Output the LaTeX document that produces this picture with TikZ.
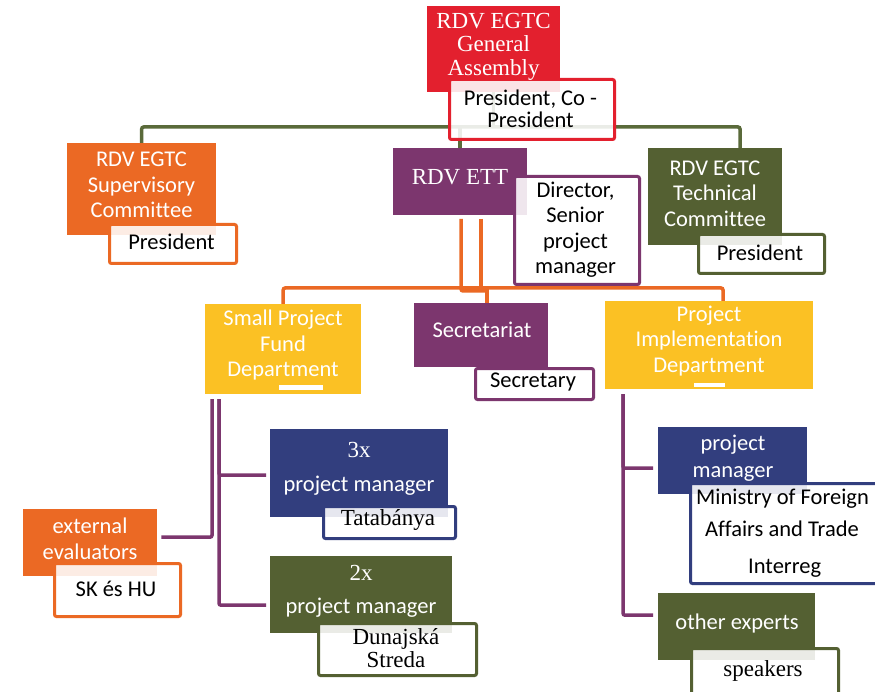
\documentclass[tikz,border=0pt]{standalone}
\usepackage{fontspec}
\setmainfont{Liberation Serif}
\newfontfamily\calfont[Ligatures=NoCommon]{Carlito}
\usetikzlibrary{calc}
\definecolor{cRed}{RGB}{227,32,46}
\definecolor{cOrange}{RGB}{235,105,36}
\definecolor{cPurple}{RGB}{124,54,110}
\definecolor{cGreen}{RGB}{84,96,50}
\definecolor{cYellow}{RGB}{251,193,36}
\definecolor{cNavy}{RGB}{50,62,126}
\definecolor{cLine}{RGB}{90,106,58}
\tikzset{
  blk/.style={fill=#1, draw=none, inner sep=0, anchor=north west},
  lbl/.style={draw=#1, line width=3pt, fill=white, fill opacity=0.88, rounded corners=2pt, inner sep=0, anchor=north west},
  wsans/.style={align=center, inner sep=0, text=white, font=\calfont\fontsize{22.5}{25.5}\selectfont},
  bsans/.style={align=center, inner sep=0, text=black, font=\calfont\fontsize{22.5}{25.5}\selectfont},
  wserif/.style={align=center, inner sep=0, text=white, font=\fontsize{23}{23.5}\selectfont},
  bserif/.style={align=center, inner sep=0, text=black, font=\fontsize{23}{23}\selectfont},
  gl/.style={draw=cLine, line width=3.5pt, rounded corners=2pt},
  ol/.style={draw=cOrange, line width=3.5pt, rounded corners=2pt},
  pl/.style={draw=cPurple, line width=3.5pt, rounded corners=2pt},
}
\begin{document}
\begin{tikzpicture}[x=1pt,y=-1pt]
\useasboundingbox (0,0) rectangle (875,692);
\clip (0,0) rectangle (875,692);
\fill[white] (0,0) rectangle (875,692);

% ---------- coloured boxes ----------
\node[blk=cRed,    minimum width=133pt, minimum height=86pt] (ga)   at (427,6) {};
\node[blk=cOrange, minimum width=149pt, minimum height=92pt] (sup)  at (67,143) {};
\node[blk=cPurple, minimum width=134pt, minimum height=67pt] (ett)  at (393,148) {};
\node[blk=cGreen,  minimum width=134pt, minimum height=97pt] (tech) at (648,148) {};
\node[blk=cYellow, minimum width=156pt, minimum height=90pt] (spf)  at (205,304) {};
\node[blk=cPurple, minimum width=134pt, minimum height=64pt] (sec)  at (414,303) {};
\node[blk=cYellow, minimum width=208pt, minimum height=88pt] (pid)  at (605,301) {};
\node[blk=cOrange, minimum width=134pt, minimum height=67pt] (ext)  at (23,509) {};
\node[blk=cNavy,   minimum width=178pt, minimum height=88pt] (pm3)  at (270,429) {};
\node[blk=cGreen,  minimum width=182pt, minimum height=77pt] (pm2)  at (270,556) {};
\node[blk=cNavy,   minimum width=149pt, minimum height=67pt] (pm)   at (658,427) {};
\node[blk=cGreen,  minimum width=157pt, minimum height=67pt] (oe)   at (658,593) {};

% ---------- connectors ----------
\coordinate (hubL) at (142,127);
\coordinate (hubR) at (740,127);
\draw[gl] (ga.south) -- (ga.south |- hubL);
\draw[gl] (sup.north) |- (hubR) -- (hubR |- tech.north);
\draw[gl] (ett.north) -- (ett.north |- hubL);

\coordinate (ohR) at (723,288);
\coordinate (e1) at (461,219);
\coordinate (e2) at (481,219);
\coordinate (sdrop) at (487,288);
\draw[ol] (spf.north) |- (ohR) -- (ohR |- pid.north);
\draw[ol] (e1) -- (461,291) -- (487,291);
\draw[ol] (e2) -- (e2 |- ohR);
\draw[ol] (sdrop) -- (sdrop |- sec.north);

\coordinate (s1) at (212,399);
\coordinate (s2) at (219,399);
\draw[pl] (s1) |- ($(ext.east)+(4,-5.5)$);
\draw[pl] (s2) |- ($(pm3.west)+(-4,2)$);
\draw[pl] (s2) |- ($(pm2.west)+(-4,10.5)$);
\coordinate (p1) at (623,394);
\draw[pl] (p1) |- ($(pm.west)+(-5,7.5)$);
\draw[pl] (p1) |- ($(oe.west)+(-5,-11.5)$);

% small white bars
\fill[white] (279,385) rectangle (323,390);
\fill[white] (694,383) rectangle (725,387);

% ---------- label boxes ----------
\node[lbl=cRed,    minimum width=165pt, minimum height=60pt]  (gal)  at (448,78) {};
\node[lbl=cOrange, minimum width=127pt, minimum height=39pt]  (supl) at (108,223) {};
\node[lbl=cPurple, minimum width=125pt, minimum height=108pt] (ettl) at (513,175) {};
\node[lbl=cGreen,  minimum width=126pt, minimum height=39pt]  (techl) at (697,233) {};
\node[lbl=cPurple, minimum width=118pt, minimum height=31pt]  (secl) at (474,367) {};
\node[lbl=cOrange, minimum width=126pt, minimum height=53pt]  (extl) at (53,562) {};
\node[lbl=cNavy,   minimum width=132pt, minimum height=32pt]  (pm3l) at (322,505) {};
\node[lbl=cGreen,  minimum width=158pt, minimum height=52pt]  (pm2l) at (317,622) {};
\node[lbl=cNavy,   minimum width=220pt, minimum height=100pt] (pml)  at (689,482) {};
\node[lbl=cGreen,  minimum width=147pt, minimum height=70pt]  (oel)  at (690,647) {};

% ---------- texts ----------
\node[wserif, font=\fontsize{23}{23.5}\selectfont] (gat) at (493.5,46.5) {RDV EGTC\\General\\Assembly};
\node[bsans, font=\calfont\fontsize{22.5}{22}\selectfont] (galt) at (530.5,109) {President, Co -\\President};
\node[wsans] (supt) at (141.5,185) {RDV EGTC\\Supervisory\\Committee};
\node[bsans] (suplt) at (171.5,242) {President};
\node[wserif] (ettt) at (460,177) {RDV ETT};
\node[bsans] (ettlt) at (575.5,229.5) {Director,\\Senior\\project\\manager};
\node[wsans] (techt) at (715,193.5) {RDV EGTC\\Technical\\Committee};
\node[bsans] (techlt) at (760,253) {President};
\node[wsans] (spft) at (283,345.5) {Small Project\\Fund\\Department};
\node[wsans] (sect) at (482,330) {Secretariat};
\node[bsans] (seclt) at (533,382) {Secretary};
\node[wsans] (pidt) at (709,341) {Project\\Implementation\\Department};
\node[wsans, font=\calfont\fontsize{22.5}{26}\selectfont] (extt) at (90,538.5) {external\\evaluators};
\node[bsans] (extlt) at (116,588.5) {SK és HU};
\node[wserif] (pm3a) at (359,450) {3x};
\node[wsans] (pm3b) at (359,486) {project manager};
\node[bserif] (pm3lt) at (388,520) {Tatabánya};
\node[wserif] (pm2a) at (361,573) {2x};
\node[wsans] (pm2b) at (361,608) {project manager};
\node[bserif] (pm2lt) at (396,648.5) {Dunajská\\Streda};
\node[wsans, font=\calfont\fontsize{22.5}{27}\selectfont] (pmt) at (733,458) {project\\manager};
\node[bsans, anchor=west] (pml1) at (696,499) {Ministry of Foreign};
\node[bsans, anchor=west] (pml2) at (705,529) {Affairs and Trade};
\node[bsans, anchor=west] (pml3) at (748,568) {Interreg};
\node[wsans] (oet) at (737,623) {other experts};
\node[bserif] (oelt) at (763,671) {speakers};
\end{tikzpicture}
\end{document}
